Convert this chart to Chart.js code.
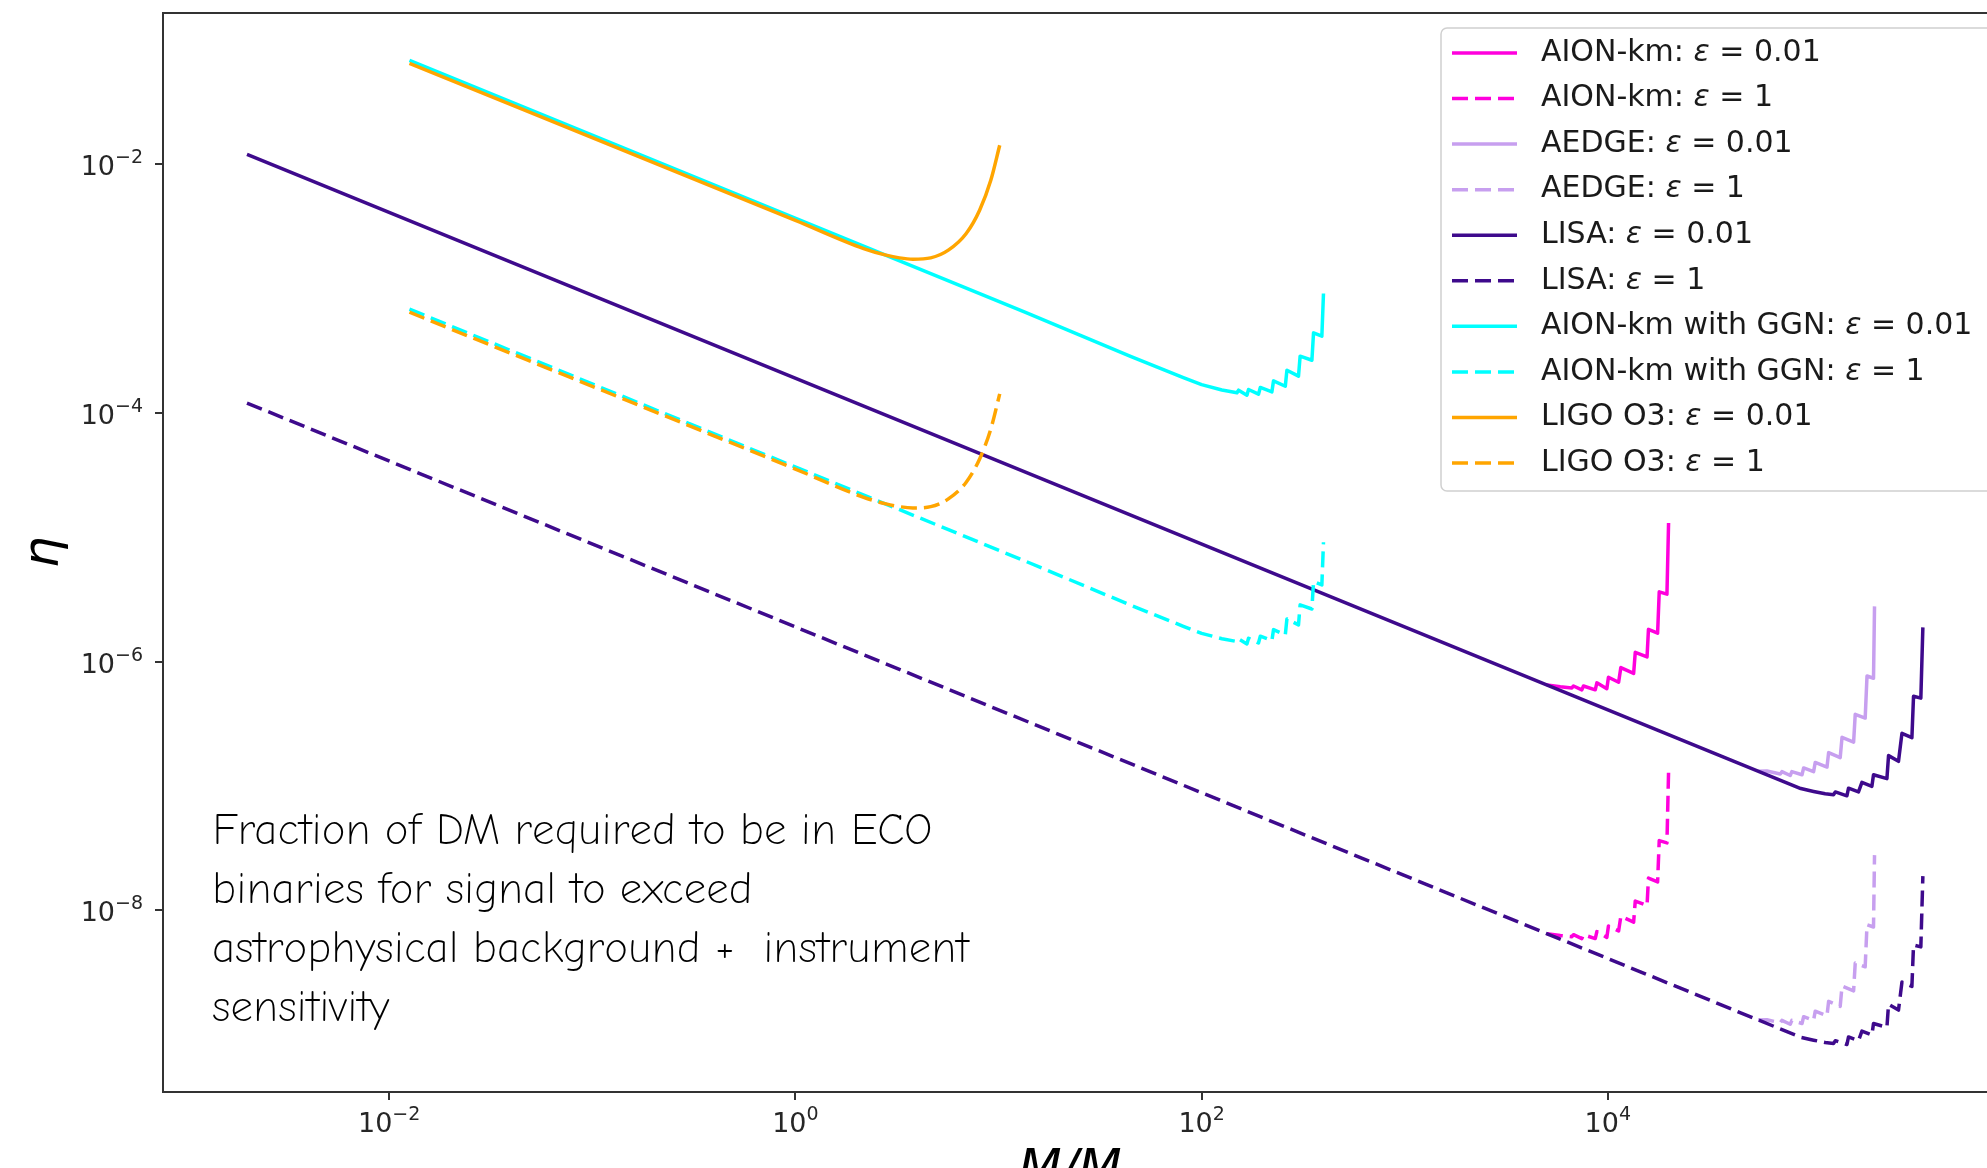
<!DOCTYPE html>
<html>
<head>
<meta charset="utf-8">
<title>Fraction of DM in ECO binaries</title>
<script src="https://cdn.jsdelivr.net/npm/chart.js@4.4.1/dist/chart.umd.min.js"></script>
<style>
  html, body { margin: 0; padding: 0; background: #fff; overflow: hidden; }
  canvas { display: block; }
</style>
</head>
<body>
<canvas id="etaChart" width="2030" height="1200" style="width:2030px;height:1200px"></canvas>
<script>
// all values are log10 (x = M/Msun, y = eta)
// the eps = 1 curves sit two decades under the eps = 0.01 ones

const aionLogM = [3.70, 3.766, 3.823, 3.831, 3.872, 3.880, 3.938, 3.946, 3.995, 4.003, 4.053, 4.064, 4.127, 4.135, 4.193, 4.200, 4.245, 4.253, 4.291, 4.299];
const aionLogEta001 = [-6.187, -6.202, -6.211, -6.195, -6.226, -6.195, -6.226, -6.170, -6.217, -6.125, -6.165, -6.047, -6.094, -5.924, -5.961, -5.740, -5.771, -5.438, -5.457, -4.885];
const aionLogEta1 = [-8.187, -8.202, -8.211, -8.195, -8.226, -8.195, -8.226, -8.170, -8.217, -8.125, -8.165, -8.047, -8.094, -7.924, -7.961, -7.740, -7.771, -7.438, -7.457, -6.885];

const aedgeLogM = [4.74, 4.783, 4.849, 4.857, 4.898, 4.906, 4.956, 4.964, 5.013, 5.021, 5.079, 5.087, 5.144, 5.153, 5.210, 5.218, 5.267, 5.276, 5.308, 5.313];
const aedgeLogEta001 = [-6.88, -6.879, -6.903, -6.884, -6.915, -6.884, -6.909, -6.854, -6.884, -6.810, -6.847, -6.731, -6.771, -6.608, -6.647, -6.423, -6.453, -6.115, -6.133, -5.555];
const aedgeLogEta1 = [-8.88, -8.879, -8.903, -8.884, -8.915, -8.884, -8.909, -8.854, -8.884, -8.810, -8.847, -8.731, -8.771, -8.608, -8.647, -8.423, -8.453, -8.115, -8.133, -7.555];

const lisaLogM = [-2.70, 4.95, 5.013, 5.07, 5.111, 5.12, 5.177, 5.185, 5.234, 5.251, 5.30, 5.308, 5.374, 5.382, 5.431, 5.448, 5.497, 5.505, 5.541, 5.551];
const lisaLogEta001 = [-1.92, -7.02, -7.043, -7.062, -7.069, -7.047, -7.078, -7.017, -7.047, -6.970, -7.002, -6.909, -6.940, -6.755, -6.801, -6.576, -6.611, -6.278, -6.293, -5.724];
const lisaLogEta1 = [-3.92, -9.02, -9.043, -9.062, -9.069, -9.047, -9.078, -9.017, -9.047, -8.970, -9.002, -8.909, -8.940, -8.755, -8.801, -8.576, -8.611, -8.278, -8.293, -7.724];

const ggnLogM = [-1.90, 1.13, 1.65, 1.91, 2.00, 2.10, 2.174, 2.182, 2.223, 2.231, 2.280, 2.289, 2.346, 2.354, 2.412, 2.420, 2.477, 2.485, 2.543, 2.551, 2.592, 2.600];
const ggnLogEta001 = [-1.165, -3.19, -3.545, -3.715, -3.772, -3.815, -3.838, -3.817, -3.857, -3.811, -3.849, -3.795, -3.830, -3.742, -3.785, -3.656, -3.704, -3.543, -3.576, -3.356, -3.383, -3.039];
const ggnLogEta1 = [-3.165, -5.19, -5.545, -5.715, -5.772, -5.815, -5.838, -5.817, -5.857, -5.811, -5.849, -5.795, -5.830, -5.742, -5.785, -5.656, -5.704, -5.543, -5.576, -5.356, -5.383, -5.039];

const ligoLogM = [-1.90, 0.0, 0.336, 0.446, 0.512, 0.578, 0.666, 0.753, 0.841, 0.907, 0.962, 1.006];
const ligoLogEta001 = [-1.19, -2.451, -2.678, -2.731, -2.753, -2.764, -2.753, -2.691, -2.557, -2.370, -2.129, -1.847];
const ligoLogEta1 = [-3.19, -4.451, -4.678, -4.731, -4.753, -4.764, -4.753, -4.691, -4.557, -4.370, -4.129, -3.847];

// ticks: 10^exponent
const xTickValues = [1e-2, 1, 1e2, 1e4];
const xTickLabels = ['−2', '0', '2', '4'];
const yTickValues = [1e-8, 1e-6, 1e-4, 1e-2];
const yTickLabels = ['−8', '−6', '−4', '−2'];

const noteLines = [
  'Fraction of DM required to be in ECO',
  'binaries for signal to exceed',
  'astrophysical background +  instrument',
  'sensitivity'
];

// axis limits (the right spine falls just outside the window)
const xMin = 7.7e-4, xMax = 9.55e5;
const yMin = 3.47e-10, yMax = 0.1644;

const colors = {
  aion: '#ff00dd',
  aedge: '#c79fef',
  lisa: '#3e0a8c',
  ggn: '#00ffff',
  ligo: '#ffa500'
};

const series = [
  { name: 'AION-km', eps: '0.01', logM: aionLogM, logEta: aionLogEta001, color: colors.aion, dashed: false },
  { name: 'AION-km', eps: '1', logM: aionLogM, logEta: aionLogEta1, color: colors.aion, dashed: true },
  { name: 'AEDGE', eps: '0.01', logM: aedgeLogM, logEta: aedgeLogEta001, color: colors.aedge, dashed: false },
  { name: 'AEDGE', eps: '1', logM: aedgeLogM, logEta: aedgeLogEta1, color: colors.aedge, dashed: true },
  { name: 'LISA', eps: '0.01', logM: lisaLogM, logEta: lisaLogEta001, color: colors.lisa, dashed: false },
  { name: 'LISA', eps: '1', logM: lisaLogM, logEta: lisaLogEta1, color: colors.lisa, dashed: true },
  { name: 'AION-km with GGN', eps: '0.01', logM: ggnLogM, logEta: ggnLogEta001, color: colors.ggn, dashed: false },
  { name: 'AION-km with GGN', eps: '1', logM: ggnLogM, logEta: ggnLogEta1, color: colors.ggn, dashed: true },
  { name: 'LIGO O3', eps: '0.01', logM: ligoLogM, logEta: ligoLogEta001, color: colors.ligo, dashed: false, smooth: true },
  { name: 'LIGO O3', eps: '1', logM: ligoLogM, logEta: ligoLogEta1, color: colors.ligo, dashed: true, smooth: true }
];

const DASH = [16, 7];
const LINE_W = 3.5;

function toPoints(logM, logEta) {
  return logM.map((m, i) => ({ x: Math.pow(10, m), y: Math.pow(10, logEta[i]) }));
}

function makeDataset(s, i) {
  const ds = {
    label: s.name + ': ε = ' + s.eps,
    data: toPoints(s.logM, s.logEta),
    borderColor: s.color,
    borderWidth: LINE_W,
    borderDash: s.dashed ? DASH : [],
    borderJoinStyle: 'round',
    pointRadius: 0,
    showLine: true,
    fill: false,
    tension: 0,
    order: series.length - i   // later series on top, like matplotlib
  };
  if (s.smooth) ds.cubicInterpolationMode = 'monotone';
  return ds;
}

// box around the axes (matplotlib draws spines over the lines)
const framePlugin = {
  id: 'frame',
  afterDatasetsDraw(chart) {
    const { ctx, chartArea: a } = chart;
    ctx.save();
    ctx.strokeStyle = '#333';
    ctx.lineWidth = 2;
    ctx.strokeRect(a.left, a.top, a.right - a.left, a.bottom - a.top);
    ctx.restore();
  }
};

// tick labels as 10 with a raised exponent
const tickLabelPlugin = {
  id: 'powerTicks',
  afterDraw(chart) {
    const ctx = chart.ctx;
    const xs = chart.scales.x, ys = chart.scales.y;
    const big = '27px "DejaVu Sans"', small = '19px "DejaVu Sans"';
    ctx.save();
    ctx.fillStyle = '#262626';
    ctx.textBaseline = 'alphabetic';
    ctx.textAlign = 'left';

    xTickValues.forEach((v, i) => {
      const px = xs.getPixelForValue(v);
      ctx.font = big;
      const w1 = ctx.measureText('10').width;
      ctx.font = small;
      const w2 = ctx.measureText(xTickLabels[i]).width;
      const x0 = px - (w1 + w2) / 2;
      ctx.font = big;
      ctx.fillText('10', x0, 1132);
      ctx.font = small;
      ctx.fillText(xTickLabels[i], x0 + w1, 1120);
    });

    yTickValues.forEach((v, i) => {
      const py = ys.getPixelForValue(v);
      const right = 143;
      ctx.font = small;
      const w2 = ctx.measureText(yTickLabels[i]).width;
      ctx.font = big;
      const w1 = ctx.measureText('10').width;
      ctx.fillText('10', right - w2 - w1, py + 11);
      ctx.font = small;
      ctx.fillText(yTickLabels[i], right - w2, py - 1);
    });

    // x axis title, M/M_sun (bottom falls outside the window)
    const cx = 1070;
    ctx.fillStyle = '#000';
    ctx.font = 'italic 50px "DejaVu Sans"';
    const wm = ctx.measureText('M/M').width;
    ctx.fillText('M/M', cx - wm / 2, 1184);
    ctx.font = '35px "DejaVu Sans"';
    ctx.fillText('⊙', cx + wm / 2, 1196);
    ctx.restore();
  }
};

const notePlugin = {
  id: 'note',
  afterDraw(chart) {
    const ctx = chart.ctx;
    ctx.save();
    ctx.fillStyle = '#000';
    ctx.font = '300 44px "Comic Neue", "Comic Sans MS", Lato, sans-serif';
    ctx.textBaseline = 'alphabetic';
    noteLines.forEach((line, i) => {
      ctx.fillText(line, 212, 844 + i * 58.9);
    });
    ctx.restore();
  }
};

// legend in the upper right, drawn by hand so eps can be italic
const legendPlugin = {
  id: 'legendBox',
  afterDraw(chart) {
    const ctx = chart.ctx;
    const box = { x: 1441, y: 28, w: 554, h: 463 };
    ctx.save();
    ctx.beginPath();
    ctx.roundRect(box.x, box.y, box.w, box.h, 6);
    ctx.fillStyle = 'rgba(255,255,255,0.8)';
    ctx.fill();
    ctx.strokeStyle = '#d0d0d0';
    ctx.lineWidth = 1.5;
    ctx.stroke();

    series.forEach((s, i) => {
      const y = 53 + i * 45.56;
      ctx.beginPath();
      ctx.setLineDash(s.dashed ? DASH : []);
      ctx.strokeStyle = s.color;
      ctx.lineWidth = LINE_W;
      ctx.moveTo(1452, y);
      ctx.lineTo(1517, y);
      ctx.stroke();
      ctx.setLineDash([]);

      ctx.fillStyle = '#1a1a1a';
      ctx.textBaseline = 'middle';
      let x = 1541;
      ctx.font = '30px "DejaVu Sans"';
      const head = s.name + ': ';
      ctx.fillText(head, x, y);
      x += ctx.measureText(head).width;
      ctx.font = 'italic 30px "DejaVu Sans"';
      ctx.fillText('ε', x, y);
      x += ctx.measureText('ε').width;
      ctx.font = '30px "DejaVu Sans"';
      ctx.fillText(' = ' + s.eps, x, y);
    });
    ctx.restore();
  }
};

const titleFont = { family: 'DejaVu Sans', size: 50, style: 'italic' };

new Chart(document.getElementById('etaChart'), {
  type: 'scatter',
  data: { datasets: series.map(makeDataset) },
  options: {
    responsive: false,
    animation: false,
    devicePixelRatio: 1,
    layout: { padding: { left: 0, top: 13, right: 20, bottom: 0 } },
    plugins: {
      legend: { display: false },
      tooltip: { enabled: false }
    },
    scales: {
      x: {
        type: 'logarithmic',
        min: xMin,
        max: xMax,
        afterBuildTicks: (axis) => { axis.ticks = xTickValues.map(v => ({ value: v })); },
        afterFit: (axis) => { axis.height = 108; axis.paddingLeft = 0; axis.paddingRight = 0; },
        border: { display: false },
        grid: { drawOnChartArea: false, drawTicks: true, tickLength: 8, color: '#333', lineWidth: 2 },
        ticks: { display: false, autoSkip: false, maxRotation: 0 }
      },
      y: {
        type: 'logarithmic',
        min: yMin,
        max: yMax,
        afterBuildTicks: (axis) => { axis.ticks = yTickValues.map(v => ({ value: v })); },
        afterFit: (axis) => { axis.width = 163; axis.paddingTop = 0; axis.paddingBottom = 0; },
        border: { display: false },
        grid: { drawOnChartArea: false, drawTicks: true, tickLength: 8, color: '#333', lineWidth: 2 },
        ticks: { display: false, autoSkip: false },
        title: { display: true, text: 'η', color: '#000', font: titleFont, padding: { top: 15.5, bottom: 0 } }
      }
    }
  },
  plugins: [framePlugin, tickLabelPlugin, notePlugin, legendPlugin]
});
</script>
</body>
</html>
